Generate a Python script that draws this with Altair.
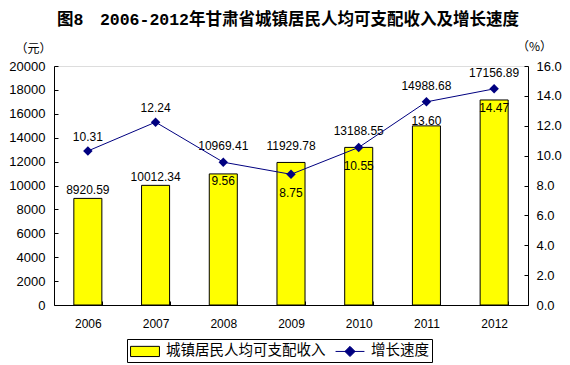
import altair as alt
import pandas as pd

# ---- data ----
years = ["2006", "2007", "2008", "2009", "2010", "2011", "2012"]
income = [8920.59, 10012.34, 10969.41, 11929.78, 13188.55, 14988.68, 17156.89]
growth = [10.31, 12.24, 9.56, 8.75, 10.55, 13.60, 14.47]
income_ticks = [0, 2000, 4000, 6000, 8000, 10000, 12000, 14000, 16000, 18000, 20000]
growth_ticks = [0, 2, 4, 6, 8, 10, 12, 14, 16]
series = ["城镇居民人均可支配收入", "增长速度"]
title_text = "图8\u30002006-2012年甘肃省城镇居民人均可支配收入及增长速度"

# ---- styles ----
NUM_FONT = "Liberation Sans"
CJK_FONT = "Noto Sans CJK SC"
NAVY = "#000080"
YELLOW = "#FFFF00"
INC_MAX = 20000
GR_MAX = 16
RATIO = INC_MAX / GR_MAX  # both axes start at 0, so a growth value maps to this income level

df = pd.DataFrame({"year": years, "income": income, "growth": growth})

base = alt.Chart(df).transform_calculate(
    level=f"datum.growth * {RATIO}",
).transform_calculate(
    far="datum.level - datum.income > 3000",
    bar_level="datum.level - datum.income > 3000 ? datum.income : max(datum.income, datum.level)",
)

x_axis = alt.Axis(
    title=None, labelAngle=0, tickBand="extent",
    tickSize=alt.ExprRef(expr="-4"), labelPadding=17,
    labelFont=NUM_FONT, labelFontSize=12, labelColor="black",
    domainColor="black", tickColor="black", grid=False,
)
x_scale = alt.Scale(paddingInner=0.586, paddingOuter=0.293)


def xe():
    return alt.X("year:N", sort=years, scale=x_scale, axis=x_axis)


inc_scale = alt.Scale(domain=[0, INC_MAX], nice=False, zero=True)
gr_scale = alt.Scale(domain=[0, GR_MAX], nice=False, zero=True)

left_axis = alt.Axis(
    values=income_ticks, format="d", grid=False,
    title="（元）", titleAngle=0, titleX=-21, titleY=-18,
    titleAlign="center", titleBaseline="middle",
    titleFont=CJK_FONT, titleFontSize=12, titleFontWeight="normal", titleColor="black",
    tickSize=alt.ExprRef(expr="-4"), labelPadding=13,
    labelFont=NUM_FONT, labelFontSize=13, labelColor="black",
    domainColor="black", tickColor="black",
)
right_axis = alt.Axis(
    orient="right", values=growth_ticks, format=".1f", grid=False,
    title="（%）", titleAngle=0, titleX=6, titleY=-20,
    titleAlign="center", titleBaseline="middle",
    titleFont=CJK_FONT, titleFontSize=12, titleFontWeight="normal", titleColor="black",
    tickSize=alt.ExprRef(expr="-4"), labelPadding=12,
    labelFont=NUM_FONT, labelFontSize=13, labelColor="black",
    domainColor="black", tickColor="black",
)

bars = base.mark_bar(color=YELLOW, stroke="black", strokeWidth=1).encode(
    x=xe(),
    y=alt.Y("income:Q", scale=inc_scale, axis=left_axis),
)

bar_lab_far = base.transform_filter("datum.far").mark_text(
    font=NUM_FONT, fontSize=12, color="black", dy=-8, baseline="middle"
).encode(
    x=xe(),
    y=alt.Y("bar_level:Q", scale=inc_scale, axis=left_axis),
    text=alt.Text("income:Q", format=".2f"),
)
bar_lab_close = base.transform_filter("!datum.far").mark_text(
    font=NUM_FONT, fontSize=12, color="black", dy=-16, baseline="middle"
).encode(
    x=xe(),
    y=alt.Y("bar_level:Q", scale=inc_scale, axis=left_axis),
    text=alt.Text("income:Q", format=".2f"),
)

line = base.mark_line(color=NAVY, strokeWidth=1).encode(
    x=xe(),
    y=alt.Y("growth:Q", scale=gr_scale, axis=right_axis),
)
points = base.mark_point(shape="diamond", filled=True, size=90, color=NAVY, opacity=1).encode(
    x=xe(),
    y=alt.Y("growth:Q", scale=gr_scale, axis=right_axis),
)
gr_lab_far = base.transform_filter("datum.far").mark_text(
    font=NUM_FONT, fontSize=12, color="black", dy=-14, baseline="middle"
).encode(
    x=xe(),
    y=alt.Y("growth:Q", scale=gr_scale, axis=right_axis),
    text=alt.Text("growth:Q", format=".2f"),
)
gr_lab_close = base.transform_filter("!datum.far").mark_text(
    font=NUM_FONT, fontSize=12, color="black", dy=19, baseline="middle"
).encode(
    x=xe(),
    y=alt.Y("growth:Q", scale=gr_scale, axis=right_axis),
    text=alt.Text("growth:Q", format=".2f"),
)

# legend: one box, two entries (bar swatch and line-with-diamond)
rect_path = "M-1.7,-0.6H1.7V0.6H-1.7Z"
line_path = "M-1.7,0H1.7M0,-0.6L0.6,0L0,0.6L-0.6,0Z"
leg = alt.Legend(
    title=None, orient="none", legendX=73, legendY=273, direction="horizontal",
    symbolSize=289, symbolOffset=6, symbolStrokeWidth=1, labelOffset=12,
    columnPadding=7, padding=3, strokeColor="black",
    labelFont=CJK_FONT, labelFontSize=14.5, labelColor="black", labelLimit=400,
)
legend_df = pd.DataFrame({"series": series})
legend_layer = alt.Chart(legend_df).transform_filter("false").mark_point(
    filled=True, strokeWidth=1, opacity=1
).encode(
    fill=alt.Fill("series:N", scale=alt.Scale(domain=series, range=[YELLOW, NAVY]), legend=leg),
    stroke=alt.Stroke("series:N", scale=alt.Scale(domain=series, range=["#000000", NAVY]), legend=leg),
    shape=alt.Shape("series:N", scale=alt.Scale(domain=series, range=[rect_path, line_path]), legend=leg),
)

left = alt.layer(bars, bar_lab_far, bar_lab_close)
right = alt.layer(line, points, gr_lab_far, gr_lab_close)

chart = alt.layer(left, right, legend_layer).resolve_scale(y="independent").properties(
    width=474,
    height=239,
    autosize="none",
    padding={"left": 46, "top": 58, "right": 34, "bottom": 60},
    title=alt.TitleParams(
        text=title_text, font="Liberation Mono, " + CJK_FONT, fontSize=16.5,
        fontWeight="bold", color="black", anchor="middle", frame="group",
        offset=12, dx=-3,
    ),
).configure_view(stroke=None).configure(background="white")

chart.save("out.html", embed_options={"renderer": "svg", "actions": False})
